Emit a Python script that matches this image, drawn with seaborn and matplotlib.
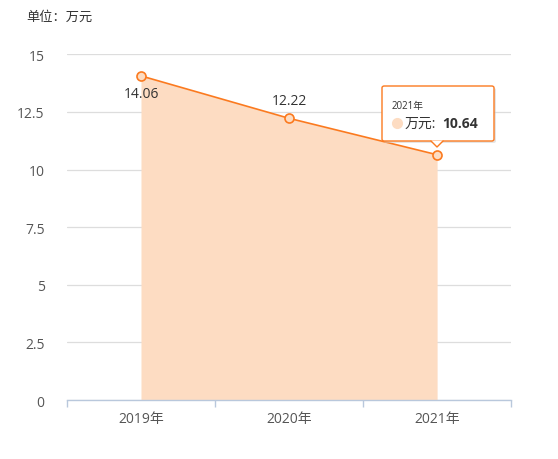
import matplotlib
matplotlib.use("Agg")
import matplotlib.pyplot as plt
import seaborn as sns
import pandas as pd
from matplotlib.patches import FancyBboxPatch, Polygon

# data
years = ['2019年', '2020年', '2021年']
values = [14.06, 12.22, 10.64]
y_ticks = [0, 2.5, 5, 7.5, 10, 12.5, 15]
y_tick_labels = ['0', '2.5', '5', '7.5', '10', '12.5', '15']
unit_label = '单位：万元'
series_name = '万元'

sns.set_style('white')
plt.rcParams['font.family'] = ['Open Sans', 'Noto Sans CJK SC', 'DejaVu Sans']

line_color = '#fb7a1f'
fill_color = '#fddcc2'
text_color = '#555555'

df = pd.DataFrame({'pos': range(len(years)), 'value': values})

fig = plt.figure(figsize=(5.58, 4.60), dpi=100)
ax = fig.add_axes([0.120, 0.128, 0.796, 0.752])

ax.fill_between(df['pos'], 0, df['value'], color=fill_color, lw=0, zorder=1)
sns.lineplot(data=df, x='pos', y='value', ax=ax, color=line_color, lw=1.2,
             marker='o', markersize=6.5, markerfacecolor=fill_color,
             markeredgecolor=line_color, markeredgewidth=1.2, zorder=3)

ax.set_xlim(-0.5, len(years) - 0.5)
ax.set_ylim(0, 15)
ax.set_yticks(y_ticks)
ax.set_yticklabels(y_tick_labels)
ax.set_xticks(range(len(years)))
ax.set_xticklabels(years)
ax.set_xticks([i - 0.5 for i in range(len(years) + 1)], minor=True)
ax.tick_params(axis='x', which='major', length=0, pad=8, labelsize=10, labelcolor=text_color)
ax.tick_params(axis='x', which='minor', bottom=True, direction='out', length=5,
               color='#b9c8dc', width=1)
ax.tick_params(axis='y', length=0, pad=16, labelsize=10, labelcolor=text_color)
ax.set_xlabel('')
ax.set_ylabel('')

ax.grid(axis='y', color='#dddddd', lw=0.9)
ax.set_axisbelow(True)
for s in ['top', 'right', 'left']:
    ax.spines[s].set_visible(False)
ax.spines['bottom'].set_color('#b9c8dc')
ax.spines['bottom'].set_linewidth(1)

# data labels
ax.text(0, values[0] - 0.45, f'{values[0]:.2f}', ha='center', va='top', fontsize=10, color='#333333', zorder=4)
ax.text(1, values[1] + 0.45, f'{values[1]:.2f}', ha='center', va='bottom', fontsize=10, color='#333333', zorder=4)
ax.text(2, values[2] + 0.45, f'{values[2]:.2f}', ha='center', va='bottom', fontsize=10, color='#333333', zorder=4)

fig.text(26 / 558, 1 - 17 / 460, unit_label, ha='left', va='center', fontsize=9.5, color='#333333')

# tooltip
x0, y0, x1, y1 = 382, 87, 494, 142
shadow = FancyBboxPatch(((x0 + 2) / 558, 1 - (y1 + 2) / 460), (x1 - x0) / 558, (y1 - y0) / 460,
                        boxstyle='round,pad=0,rounding_size=0.004', transform=fig.transFigure,
                        facecolor='#cccccc', edgecolor='none', alpha=0.5, zorder=9)
fig.patches.append(shadow)
tip = FancyBboxPatch((x0 / 558, 1 - y1 / 460), (x1 - x0) / 558, (y1 - y0) / 460,
                     boxstyle='round,pad=0,rounding_size=0.004', transform=fig.transFigure,
                     facecolor='white', edgecolor=line_color, lw=1, zorder=10)
fig.patches.append(tip)
px = 437
arrow = Polygon([((px - 6) / 558, 1 - (y1 - 0.5) / 460), ((px + 6) / 558, 1 - (y1 - 0.5) / 460),
                 (px / 558, 1 - (y1 + 6) / 460)], closed=True, transform=fig.transFigure,
                facecolor='white', edgecolor='none', zorder=11)
fig.patches.append(arrow)
fig.add_artist(plt.Line2D([(px - 6) / 558, px / 558, (px + 6) / 558],
                          [1 - y1 / 460, 1 - (y1 + 6) / 460, 1 - y1 / 460],
                          color=line_color, lw=1, zorder=12))
fig.text(392 / 558, 1 - 106 / 460, years[2], fontsize=7, color='#333333', va='center', zorder=13)
fig.add_artist(plt.Line2D([397 / 558], [1 - 124 / 460], marker='o', markersize=7,
                          color=fill_color, lw=0, zorder=13))
fig.text(405 / 558, 1 - 124 / 460, series_name + ':', fontsize=10, color='#333333', va='center', zorder=13)
fig.text(442 / 558, 1 - 124 / 460, f'{values[2]:.2f}', fontsize=10, fontweight='bold',
         color='#333333', va='center', zorder=13)

fig.savefig('out.png', dpi=100)
